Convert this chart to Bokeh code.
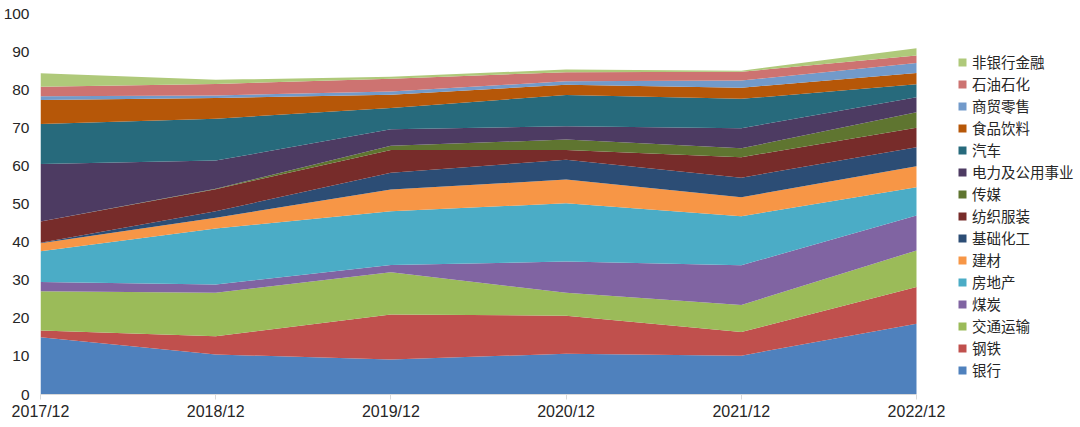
from bokeh.plotting import figure
from bokeh.models import ColumnDataSource, Range1d, FixedTicker, Legend, LegendItem
from bokeh.embed import file_html
from bokeh.resources import INLINE

periods = ["2017/12", "2018/12", "2019/12", "2020/12", "2021/12", "2022/12"]

names = ["银行", "钢铁", "交通运输", "煤炭", "房地产", "建材", "基础化工", "纺织服装",
         "传媒", "电力及公用事业", "汽车", "食品饮料", "商贸零售", "石油石化", "非银行金融"]

bank        = [15.0, 10.5,  9.2, 10.7, 10.2, 18.6]
steel       = [ 1.8,  4.8, 11.8, 10.0,  6.2,  9.6]
transport   = [10.3, 11.4, 11.1,  6.0,  7.1,  9.6]
coal        = [ 2.4,  2.2,  1.9,  8.2, 10.4,  9.2]
realestate  = [ 8.1, 14.7, 14.1, 15.3, 12.9,  7.4]
buildmat    = [ 2.1,  2.8,  5.7,  6.2,  5.0,  5.5]
chemical    = [ 0.1,  1.7,  4.4,  5.2,  5.1,  5.0]
textile     = [ 5.6,  5.8,  6.0,  2.6,  5.4,  5.1]
media       = [ 0.0,  0.1,  1.1,  2.7,  2.3,  4.1]
utilities   = [15.1,  7.4,  4.3,  3.5,  5.3,  3.9]
auto        = [10.5, 11.0,  5.6,  8.2,  7.7,  3.4]
food        = [ 6.3,  5.4,  3.5,  2.7,  2.9,  3.0]
retail      = [ 1.0,  0.7,  0.8,  0.9,  1.9,  2.6]
petro       = [ 2.5,  3.0,  3.4,  2.4,  2.3,  2.0]
nonbank     = [ 3.5,  1.1,  0.5,  0.7,  0.3,  1.9]

series = [bank, steel, transport, coal, realestate, buildmat, chemical, textile,
          media, utilities, auto, food, retail, petro, nonbank]

colors = ["#4F81BD", "#C0504D", "#9BBB59", "#8064A2", "#4BACC6", "#F79646", "#2C4D75",
          "#772C2A", "#5F7530", "#4D3B62", "#276A7C", "#B65708", "#729ACA", "#CD7371", "#AFC97A"]

data = {"x": list(range(len(periods)))}
for n, s in zip(names, series):
    data[n] = s
source = ColumnDataSource(data)

W, H = 1078, 422
LEFT, AREA_RIGHT, TOP, BOTTOM = 40, 916, 13, 394
frame_w = W - LEFT
area_w = AREA_RIGHT - LEFT
x_end = (len(periods) - 1) * frame_w / area_w

p = figure(width=W, height=H, output_backend="svg", toolbar_location=None,
           x_range=Range1d(0, x_end), y_range=Range1d(0, 100),
           min_border_left=LEFT, min_border_right=0, min_border_top=TOP,
           min_border_bottom=H - BOTTOM)
p.outline_line_color = None
p.grid.visible = False
p.background_fill_color = "white"

renderers = p.varea_stack(stackers=names, x="x", color=colors, source=source)

# axes
xa = p.xaxis[0]
xa.ticker = FixedTicker(ticks=list(range(len(periods))))
xa.major_label_overrides = {i: lab for i, lab in enumerate(periods)}
xa.bounds = (0, len(periods) - 1)
xa.axis_line_color = "#D9D9D9"
xa.major_tick_line_color = "#D9D9D9"
xa.major_tick_in = 0
xa.major_tick_out = 5
xa.minor_tick_line_color = None
xa.major_label_standoff = 3
xa.major_label_text_font = "Liberation Sans"
xa.major_label_text_font_size = "16px"
xa.major_label_text_color = "#262626"

ya = p.yaxis[0]
ya.ticker = FixedTicker(ticks=list(range(0, 101, 10)))
ya.axis_line_color = None
ya.major_tick_line_color = None
ya.minor_tick_line_color = None
ya.major_tick_in = 0
ya.major_tick_out = 0
ya.major_label_standoff = 11
ya.major_label_text_font = "Liberation Sans"
ya.major_label_text_font_size = "15.5px"
ya.major_label_text_color = "#262626"

items = [LegendItem(label=n, renderers=[r]) for n, r in zip(names, renderers)][::-1]
legend = Legend(items=items, location=(917, 14), orientation="vertical",
                glyph_width=10, glyph_height=10, label_height=20, spacing=1,
                label_standoff=5, padding=0, margin=0,
                border_line_color=None, background_fill_alpha=0,
                label_text_font="Noto Sans CJK SC", label_text_font_size="14.5px",
                label_text_color="#262626")
p.add_layout(legend, "center")

open("out.html", "w").write(file_html(p, INLINE))
